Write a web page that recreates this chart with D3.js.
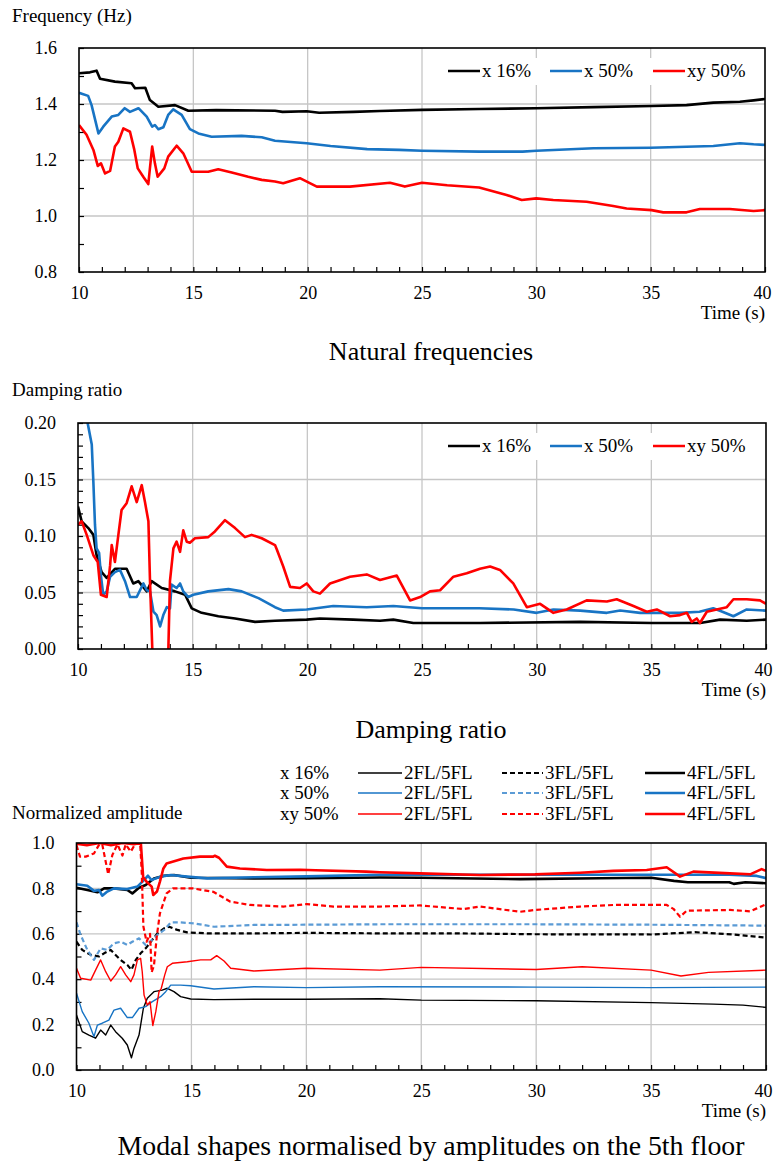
<!DOCTYPE html>
<html lang="en">
<head>
    <meta charset="UTF-8">
    <title>Modal identification over time</title>
    <script src="https://cdnjs.cloudflare.com/ajax/libs/d3/7.8.5/d3.min.js"></script>
    <style>
        * { margin: 0; padding: 0; box-sizing: border-box; }
        body { background: #fff; width: 774px; height: 1168px; overflow: hidden; }
        svg { display: block; }
        .grid line { stroke: #c6c6c6; stroke-width: 1.3; }
    </style>
</head>
<body>
<svg id="chart" width="774" height="1168"></svg>
<script>
    // ---- data: [time (s), value] ----
    const timeTicks = [10, 15, 20, 25, 30, 35, 40];

    const seriesNames = ['x 16%', 'x 50%', 'xy 50%'];

    // Natural frequencies (Hz)
    const freqX16 = [[10,1.51],[10.48,1.513],[10.77,1.519],[10.92,1.49],[11.57,1.48],[12.3,1.474],[12.45,1.456],[12.9,1.458],[13.1,1.414],[13.47,1.39],[14.2,1.396],[14.78,1.376],[16,1.378],[18.57,1.376],[18.9,1.372],[19.96,1.374],[20.5,1.369],[22,1.372],[23.16,1.375],[25,1.379],[27.5,1.382],[30,1.385],[32.5,1.389],[35.04,1.393],[36.57,1.396],[37.74,1.405],[38.9,1.408],[39.5,1.413],[40,1.418]];
    const freqX50 = [[10,1.44],[10.4,1.429],[10.55,1.396],[10.85,1.295],[11.06,1.319],[11.43,1.355],[11.72,1.361],[12,1.385],[12.23,1.372],[12.6,1.385],[12.96,1.355],[13.2,1.319],[13.32,1.325],[13.47,1.31],[13.69,1.317],[13.9,1.361],[14.12,1.381],[14.49,1.361],[14.85,1.31],[15.22,1.295],[15.8,1.283],[17.11,1.286],[17.99,1.281],[18.57,1.269],[19.96,1.26],[21,1.25],[22.6,1.239],[24,1.236],[25,1.233],[27.5,1.23],[29.4,1.23],[30,1.233],[32.5,1.242],[35,1.244],[37.74,1.25],[38.9,1.26],[39.5,1.256],[40,1.254]];
    const freqXY50 = [[10,1.325],[10.33,1.29],[10.63,1.236],[10.82,1.179],[10.96,1.188],[11.14,1.152],[11.36,1.161],[11.57,1.248],[11.72,1.265],[11.94,1.313],[12.23,1.301],[12.42,1.236],[12.57,1.17],[12.81,1.14],[13.03,1.114],[13.2,1.248],[13.32,1.188],[13.44,1.14],[13.73,1.17],[13.9,1.212],[14.27,1.251],[14.56,1.224],[14.93,1.158],[15.65,1.158],[16.09,1.167],[16.68,1.155],[17.4,1.14],[17.99,1.129],[18.57,1.123],[18.93,1.117],[19.66,1.135],[20.4,1.105],[21.85,1.105],[23.6,1.119],[24.25,1.105],[25,1.119],[26.1,1.11],[27.5,1.102],[28.7,1.075],[29.36,1.057],[30,1.063],[30.74,1.057],[32.2,1.051],[33.36,1.036],[33.95,1.027],[35.04,1.021],[35.55,1.013],[36.57,1.013],[37.15,1.025],[38.46,1.025],[39.5,1.018],[40,1.021]];

    // Damping ratio
    const dampX16 = [[10,0.126],[10.16,0.113],[10.45,0.107],[10.67,0.101],[10.81,0.083],[11.03,0.068],[11.25,0.063],[11.61,0.071],[12.12,0.071],[12.41,0.058],[12.63,0.06],[13,0.051],[13.21,0.06],[13.65,0.054],[14.23,0.051],[14.67,0.048],[14.96,0.036],[15.39,0.032],[16.12,0.029],[16.85,0.027],[17.72,0.024],[18.59,0.025],[19.97,0.026],[20.55,0.027],[22,0.026],[23.17,0.025],[23.75,0.026],[24.62,0.023],[27.53,0.023],[31.9,0.024],[35.02,0.023],[37.13,0.023],[38,0.026],[39.16,0.025],[40,0.026]];
    const dampX50 = [[10.35,0.215],[10.42,0.2],[10.6,0.181],[10.67,0.148],[10.74,0.11],[10.81,0.089],[10.92,0.085],[11,0.065],[11.1,0.048],[11.25,0.051],[11.4,0.064],[11.61,0.068],[11.83,0.07],[12.05,0.06],[12.27,0.046],[12.56,0.046],[12.85,0.058],[13,0.052],[13.14,0.051],[13.29,0.033],[13.43,0.03],[13.58,0.02],[13.72,0.03],[13.87,0.037],[14.01,0.036],[14.08,0.057],[14.3,0.054],[14.45,0.058],[14.59,0.051],[14.81,0.046],[15.03,0.048],[15.68,0.051],[16.56,0.053],[17.14,0.051],[17.87,0.045],[18.59,0.037],[18.95,0.034],[19.97,0.035],[21.13,0.038],[22.59,0.037],[23.75,0.038],[25,0.036],[27.5,0.036],[29,0.035],[30,0.032],[30.73,0.035],[31.9,0.034],[33.06,0.032],[33.64,0.034],[34.51,0.032],[36.25,0.032],[37.1,0.033],[37.7,0.036],[38.1,0.033],[38.58,0.029],[39.16,0.035],[40,0.034]];
    const dampXY50 = [[10,0.11],[10.16,0.113],[10.38,0.101],[10.67,0.083],[10.86,0.077],[11,0.048],[11.25,0.046],[11.4,0.074],[11.47,0.092],[11.61,0.077],[11.76,0.101],[11.9,0.123],[12.12,0.129],[12.34,0.144],[12.56,0.13],[12.78,0.145],[12.92,0.13],[13.07,0.113],[13.14,0.06],[13.24,0],[13.3,-0.03],[13.88,-0.03],[13.94,0],[14.01,0.06],[14.16,0.089],[14.3,0.095],[14.45,0.086],[14.59,0.105],[14.74,0.095],[14.88,0.094],[15.1,0.098],[15.68,0.099],[15.97,0.104],[16.41,0.114],[16.85,0.107],[17.28,0.099],[17.57,0.101],[18.01,0.098],[18.59,0.092],[18.67,0.088],[18.95,0.073],[19.25,0.055],[19.68,0.054],[19.97,0.058],[20.26,0.051],[20.55,0.049],[20.99,0.058],[21.86,0.064],[22.59,0.066],[23.17,0.061],[23.9,0.065],[24.48,0.043],[24.92,0.046],[25.35,0.051],[25.79,0.052],[26.37,0.064],[26.95,0.067],[27.53,0.071],[27.97,0.073],[28.4,0.07],[28.98,0.058],[29.57,0.037],[30.15,0.04],[30.73,0.032],[31.31,0.035],[32.18,0.043],[33.06,0.042],[33.49,0.044],[34.22,0.038],[34.8,0.033],[35.24,0.035],[35.82,0.029],[36.25,0.03],[36.55,0.032],[36.76,0.024],[36.98,0.027],[37.12,0.023],[37.42,0.033],[37.85,0.035],[38.29,0.037],[38.58,0.044],[39.16,0.044],[39.74,0.043],[40,0.04]];

    // Modal shapes normalised by the 5th floor amplitude
    const ampX16_2 = [[10,0.242],[10.25,0.169],[10.54,0.154],[10.83,0.14],[11.05,0.176],[11.27,0.154],[11.49,0.198],[11.7,0.169],[11.99,0.14],[12.21,0.11],[12.39,0.054],[12.5,0.095],[12.72,0.154],[12.91,0.272],[13.08,0.316],[13.37,0.345],[13.73,0.352],[13.95,0.36],[14.24,0.345],[14.53,0.323],[14.97,0.313],[15.98,0.31],[17.72,0.312],[20,0.312],[23.2,0.314],[25,0.308],[30,0.305],[35,0.297],[37.7,0.29],[39,0.286],[40,0.276]];
    const ampX16_3 = [[10,0.565],[10.25,0.529],[10.62,0.507],[10.98,0.5],[11.2,0.514],[11.49,0.529],[11.63,0.514],[11.92,0.485],[12.21,0.463],[12.39,0.441],[12.58,0.485],[12.79,0.514],[13.01,0.536],[13.23,0.565],[13.52,0.602],[13.81,0.624],[14.03,0.631],[14.39,0.617],[14.82,0.606],[15.69,0.602],[17.72,0.602],[20,0.604],[23.2,0.602],[26.5,0.602],[30,0.598],[35,0.597],[36.9,0.607],[38.6,0.597],[40,0.583]];
    const ampX16_4 = [[10,0.803],[10.47,0.793],[10.91,0.783],[11.2,0.8],[11.63,0.8],[12.21,0.793],[12.43,0.778],[12.72,0.803],[13.01,0.815],[13.37,0.844],[13.81,0.856],[14.24,0.859],[14.97,0.847],[17.72,0.844],[20,0.845],[23.2,0.848],[25,0.847],[29.3,0.841],[32.8,0.845],[35,0.847],[36,0.833],[36.6,0.827],[38.4,0.827],[38.6,0.82],[39.1,0.827],[40,0.823]];
    const ampX50_2 = [[10,0.338],[10.25,0.257],[10.54,0.206],[10.76,0.147],[10.91,0.198],[11.12,0.206],[11.41,0.22],[11.63,0.264],[11.92,0.272],[12.21,0.231],[12.43,0.231],[12.72,0.272],[13.01,0.279],[13.3,0.301],[13.66,0.323],[13.88,0.345],[14.1,0.374],[14.53,0.374],[14.97,0.371],[15.98,0.357],[17.72,0.367],[20,0.363],[23.2,0.367],[30,0.365],[35,0.363],[40,0.365]];
    const ampX50_3 = [[10,0.65],[10.18,0.595],[10.47,0.529],[10.76,0.485],[11.05,0.536],[11.34,0.529],[11.63,0.558],[11.92,0.565],[12.21,0.551],[12.43,0.565],[12.72,0.58],[13.01,0.551],[13.23,0.568],[13.52,0.595],[13.81,0.617],[14.1,0.65],[14.53,0.65],[15.11,0.646],[15.98,0.631],[17.72,0.639],[20,0.64],[23.2,0.642],[30,0.642],[35,0.64],[40,0.636]];
    const ampX50_4 = [[10,0.818],[10.47,0.812],[10.76,0.789],[10.98,0.793],[11.12,0.768],[11.34,0.786],[11.63,0.8],[12.21,0.797],[12.65,0.808],[13.01,0.844],[13.11,0.856],[13.26,0.837],[13.66,0.852],[14.1,0.859],[14.82,0.852],[15.69,0.844],[17.72,0.849],[20,0.853],[23.2,0.86],[30,0.86],[35,0.86],[38.4,0.86],[39.6,0.855],[40,0.845]];
    const ampXY50_2 = [[10,0.448],[10.18,0.404],[10.62,0.396],[10.83,0.44],[11.05,0.485],[11.27,0.433],[11.49,0.392],[11.7,0.419],[11.92,0.455],[12.14,0.419],[12.36,0.389],[12.5,0.419],[12.65,0.485],[12.79,0.492],[12.86,0.433],[12.94,0.33],[13.08,0.286],[13.2,0.301],[13.32,0.196],[13.45,0.257],[13.59,0.345],[13.69,0.36],[13.84,0.419],[13.95,0.455],[14.17,0.47],[14.82,0.477],[15.4,0.485],[15.84,0.485],[16.1,0.504],[16.42,0.48],[16.71,0.448],[17.72,0.436],[20,0.448],[23.2,0.44],[25,0.452],[30,0.443],[32,0.455],[35,0.44],[36.3,0.414],[37.5,0.43],[40,0.44]];
    const ampXY50_3 = [[10,0.99],[10.15,0.94],[10.4,0.94],[10.76,0.954],[11,0.995],[11.12,0.994],[11.38,0.862],[11.56,0.947],[11.78,0.994],[12,0.945],[12.14,0.994],[12.36,0.962],[12.58,1],[12.77,1],[12.84,0.867],[12.91,0.632],[13.05,0.565],[13.2,0.6],[13.27,0.43],[13.37,0.46],[13.5,0.595],[13.63,0.69],[13.92,0.778],[14.2,0.8],[15.06,0.8],[15.95,0.785],[16.68,0.742],[17.55,0.727],[19,0.72],[20.02,0.731],[21.18,0.72],[23.2,0.72],[24.95,0.725],[26.83,0.709],[27.56,0.72],[29.3,0.697],[29.95,0.705],[31.91,0.72],[33.36,0.727],[35.68,0.727],[35.97,0.71],[36.26,0.675],[36.55,0.702],[38.43,0.705],[39.31,0.699],[39.6,0.712],[40,0.73]];
    const ampXY50_4 = [[10,0.997],[10.45,0.99],[11,1],[11.5,0.99],[12,1],[12.5,0.995],[12.8,1],[12.84,0.94],[12.9,0.85],[13.05,0.829],[13.27,0.808],[13.34,0.771],[13.5,0.786],[13.63,0.83],[13.78,0.888],[13.92,0.91],[14.65,0.932],[15.37,0.94],[15.95,0.94],[16.02,0.944],[16.2,0.935],[16.54,0.896],[17.11,0.888],[18.28,0.881],[19.74,0.882],[20.4,0.88],[22.6,0.874],[23.2,0.871],[24.95,0.866],[27.56,0.859],[29.95,0.862],[31.91,0.869],[33.36,0.877],[34.81,0.881],[35.68,0.893],[36.26,0.852],[36.84,0.874],[38.43,0.866],[39.31,0.862],[39.81,0.885],[40,0.877]];

    const BLACK = '#000000', BLUE = '#1874c4', LIGHTBLUE = '#5b9bd5', RED = '#ff0000';
    const FONT = '"Liberation Serif", "Times New Roman", serif';

    const svg = d3.select('#chart');
    svg.append('rect').attr('width', 774).attr('height', 1168).attr('fill', '#fff');

    function drawPanel(p) {
        const g = svg.append('g');
        const x = d3.scaleLinear().domain([10, 40]).range([p.left, p.right]);
        const y = d3.scaleLinear().domain(p.yDomain).range([p.bottom, p.top]);

        // gridlines
        const grid = g.append('g').attr('class', 'grid');
        grid.selectAll('.vg').data(timeTicks.slice(1, -1)).enter().append('line')
            .attr('x1', d => x(d)).attr('x2', d => x(d))
            .attr('y1', p.top).attr('y2', p.bottom);
        grid.selectAll('.hg').data(p.yGrid.slice(1, -1)).enter().append('line')
            .attr('x1', p.left).attr('x2', p.right)
            .attr('y1', d => y(d)).attr('y2', d => y(d));

        // minor ticks, pointing inside
        g.append('g').attr('transform', `translate(0,${p.bottom})`)
            .call(d3.axisBottom(x).tickValues(d3.range(10, 41, 1)).tickSize(-5).tickFormat(''))
            .call(a => a.select('.domain').remove())
            .selectAll('line').attr('stroke', '#000').attr('stroke-width', 1.2);
        g.append('g').attr('transform', `translate(${p.left},0)`)
            .call(d3.axisLeft(y).tickValues(p.yMinor).tickSize(-5).tickFormat(''))
            .call(a => a.select('.domain').remove())
            .selectAll('line').attr('stroke', '#000').attr('stroke-width', 1.2);

        // tick labels
        const xl = g.append('g').attr('transform', `translate(0,${p.bottom})`)
            .call(d3.axisBottom(x).tickValues(timeTicks).tickSize(0).tickPadding(14).tickFormat(d3.format('d')))
            .call(a => a.select('.domain').remove());
        xl.selectAll('text').filter(d => d === 40).attr('dx', -3);
        const yl = g.append('g').attr('transform', `translate(${p.left},0)`)
            .call(d3.axisLeft(y).tickValues(p.yGrid).tickSize(0).tickPadding(22).tickFormat(d3.format(p.yFormat)))
            .call(a => a.select('.domain').remove());
        [xl, yl].forEach(a => a.attr('font-family', null).attr('font-size', null)
            .selectAll('text').style('font-family', FONT).style('font-size', '18px').attr('fill', '#000'));

        // clipped series
        const clipId = 'clip' + p.id;
        svg.append('clipPath').attr('id', clipId).append('rect')
            .attr('x', p.left).attr('y', p.top)
            .attr('width', p.right - p.left).attr('height', p.bottom - p.top);
        const line = d3.line().x(d => x(d[0])).y(d => y(d[1]));
        g.append('g').attr('clip-path', `url(#${clipId})`)
            .selectAll('path').data(p.series).enter().append('path')
            .attr('d', s => line(s.data))
            .attr('fill', 'none')
            .attr('stroke', s => s.color)
            .attr('stroke-width', s => s.width)
            .attr('stroke-dasharray', s => s.dash || null)
            .attr('stroke-linejoin', 'round');

        // frame
        g.append('rect').attr('x', p.left).attr('y', p.top)
            .attr('width', p.right - p.left).attr('height', p.bottom - p.top)
            .attr('fill', 'none').attr('stroke', '#000').attr('stroke-width', 1.6);

        // axis titles + caption
        g.append('text').attr('x', 12).attr('y', p.yTitleY).attr('font-size', 19).text(p.yTitle);
        g.append('text').attr('x', p.right).attr('y', p.bottom + 47).attr('font-size', 19)
            .attr('text-anchor', 'end').text('Time (s)');
        g.append('text').attr('x', 431).attr('y', p.captionY).attr('font-size', p.captionSize)
            .attr('text-anchor', 'middle').text(p.caption);

        return { g, x, y };
    }

    function inlineLegend(g, p) {
        const ly = p.top + 23;
        const startX = [448, 550, 653];
        g.append('rect').attr('x', 438).attr('y', ly - 13).attr('width', p.right - 440).attr('height', 27)
            .attr('fill', '#fff');
        p.series.forEach((s, i) => {
            g.append('line').attr('x1', startX[i]).attr('x2', startX[i] + 32)
                .attr('y1', ly).attr('y2', ly).attr('stroke', s.color).attr('stroke-width', 2.5);
            g.append('text').attr('x', startX[i] + 34).attr('y', ly + 6).attr('font-size', 19).text(s.name);
        });
    }

    // ---- panel 1: natural frequencies ----
    const p1 = {
        id: 1, left: 79, right: 765, top: 48, bottom: 272,
        yDomain: [0.8, 1.6], yGrid: [0.8, 1.0, 1.2, 1.4, 1.6], yMinor: d3.range(0.8, 1.61, 0.1), yFormat: '.1f',
        yTitle: 'Frequency (Hz)', yTitleY: 22, caption: 'Natural frequencies', captionY: 360, captionSize: 26,
        series: [
            { name: seriesNames[0], data: freqX16, color: BLACK, width: 2.6 },
            { name: seriesNames[1], data: freqX50, color: BLUE, width: 2.6 },
            { name: seriesNames[2], data: freqXY50, color: RED, width: 2.6 }
        ]
    };
    const r1 = drawPanel(p1);
    inlineLegend(r1.g, p1);

    // ---- panel 2: damping ratio ----
    const p2 = {
        id: 2, left: 78, right: 766, top: 423, bottom: 649,
        yDomain: [0, 0.2], yGrid: [0, 0.05, 0.1, 0.15, 0.2], yMinor: d3.range(0, 0.201, 0.01), yFormat: '.2f',
        yTitle: 'Damping ratio', yTitleY: 396, caption: 'Damping ratio', captionY: 738, captionSize: 26,
        series: [
            { name: seriesNames[0], data: dampX16, color: BLACK, width: 2.6 },
            { name: seriesNames[1], data: dampX50, color: BLUE, width: 2.6 },
            { name: seriesNames[2], data: dampXY50, color: RED, width: 2.6 }
        ]
    };
    const r2 = drawPanel(p2);
    inlineLegend(r2.g, p2);

    // ---- panel 3: modal shapes ----
    const floorNames = ['2FL/5FL', '3FL/5FL', '4FL/5FL'];
    const rowColors = [BLACK, BLUE, RED];
    const dashColors = [BLACK, LIGHTBLUE, RED];
    const ampRows = [[ampX16_2, ampX16_3, ampX16_4], [ampX50_2, ampX50_3, ampX50_4], [ampXY50_2, ampXY50_3, ampXY50_4]];
    const colStyle = [
        { width: 1.4, dash: null },
        { width: 2.2, dash: '5,3' },
        { width: 2.6, dash: null }
    ];
    const ampSeries = [];
    ampRows.forEach((row, ri) => row.forEach((data, ci) => {
        ampSeries.push({
            data, color: ci === 1 ? dashColors[ri] : rowColors[ri],
            width: colStyle[ci].width, dash: colStyle[ci].dash, row: ri, col: ci
        });
    }));

    const p3 = {
        id: 3, left: 76.5, right: 766, top: 843, bottom: 1070,
        yDomain: [0, 1], yGrid: [0, 0.2, 0.4, 0.6, 0.8, 1.0], yMinor: d3.range(0, 1.01, 0.1), yFormat: '.1f',
        yTitle: 'Normalized amplitude', yTitleY: 819,
        caption: 'Modal shapes normalised by amplitudes on the 5th floor', captionY: 1155, captionSize: 27.8,
        series: ampSeries
    };
    drawPanel(p3);

    // legend block above panel 3
    const rowY = [773, 793, 814];
    const colLine = [[358, 402], [502, 543], [645, 685]];
    const leg3 = svg.append('g');
    seriesNames.forEach((n, ri) => {
        leg3.append('text').attr('x', 280).attr('y', rowY[ri] + 6).attr('font-size', 19).text(n);
    });
    ampSeries.forEach(s => {
        const [a, b] = colLine[s.col];
        leg3.append('line').attr('x1', a).attr('x2', b).attr('y1', rowY[s.row]).attr('y2', rowY[s.row])
            .attr('stroke', s.color).attr('stroke-width', s.width).attr('stroke-dasharray', s.dash || null);
        leg3.append('text').attr('x', b + 2).attr('y', rowY[s.row] + 6).attr('font-size', 19).text(floorNames[s.col]);
    });

    // every label in the Times-like serif of the original
    svg.selectAll('text').style('font-family', FONT).attr('fill', '#000');
</script>
</body>
</html>
